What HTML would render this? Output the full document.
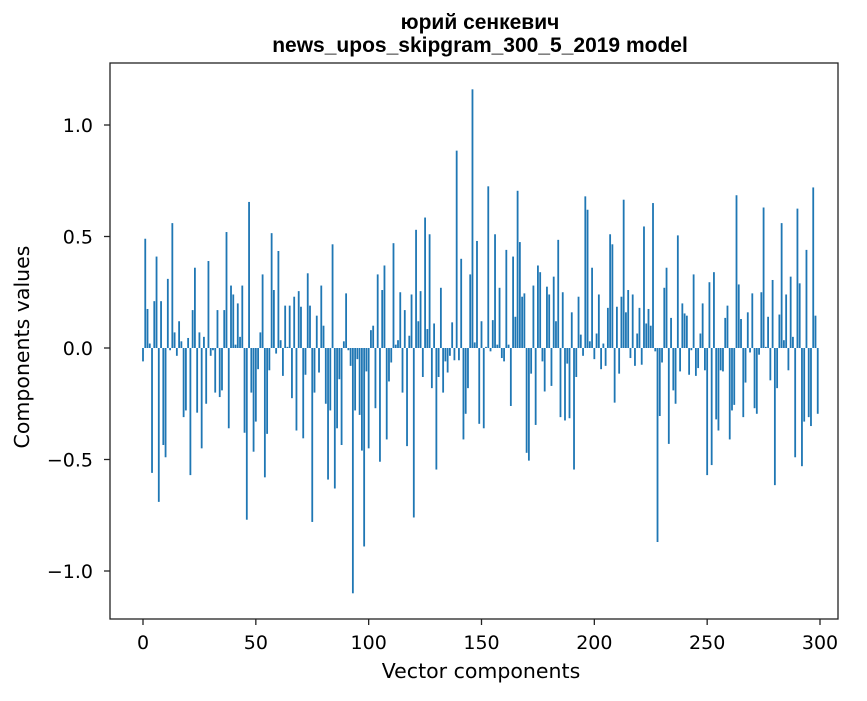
<!DOCTYPE html>
<html><head><meta charset="utf-8"><style>
body{margin:0;background:#fff;}
.dv{font-family:"DejaVu Sans","Liberation Sans",sans-serif;}
.lb{font-family:"Liberation Sans","DejaVu Sans",sans-serif;}
</style></head><body>
<svg id="chart" width="867" height="696" xmlns="http://www.w3.org/2000/svg">
<rect width="867" height="696" fill="#fff"/>
<text class="lb" x="480" y="29" text-anchor="middle" font-size="21" font-weight="bold">юрий сенкевич</text>
<text class="lb" x="480" y="52" text-anchor="middle" font-size="21" font-weight="bold">news_upos_skipgram_300_5_2019 model</text>
<g id="bars"></g>
<g id="axes"></g>
<rect x="110" y="63" width="728" height="556" fill="none" stroke="#222" stroke-width="1.3"/>
<text class="dv" x="481" y="678" text-anchor="middle" font-size="20.5">Vector components</text>
<text class="dv" transform="translate(29,347) rotate(-90)" text-anchor="middle" font-size="20.5">Components values</text>
</svg>
<script>
const values = [
-0.06,0.49,0.175,0.02,-0.56,0.21,0.41,-0.69,0.21,-0.435,
-0.49,0.31,-0.01,0.56,0.07,-0.035,0.12,0.03,-0.31,-0.28,
0.045,-0.57,0.17,0.36,-0.29,0.07,-0.45,0.05,-0.25,0.39,
-0.035,-0.01,-0.2,0.17,-0.22,-0.19,0.17,0.52,-0.36,0.28,
0.24,0.015,0.2,0.05,0.28,-0.38,-0.77,0.655,-0.2,-0.465,
-0.33,-0.095,0.07,0.33,-0.58,-0.385,-0.1,0.515,0.26,-0.025,
0.435,0.035,-0.125,0.19,0.005,0.19,-0.225,0.23,-0.37,0.255,
0.185,-0.405,-0.12,0.335,0.19,-0.78,-0.2,0.145,-0.11,0.28,
0.1,-0.25,-0.59,-0.28,0.465,-0.63,-0.36,-0.14,-0.435,0.03,
0.245,-0.01,-0.08,-1.1,-0.28,-0.05,-0.3,-0.46,-0.89,-0.105,
-0.45,0.08,0.1,-0.27,0.33,-0.51,0.26,0.37,-0.41,-0.15,
-0.065,0.47,0.015,0.035,0.25,-0.2,0.17,-0.44,0.055,0.24,
-0.76,0.53,0.12,0.255,-0.13,0.585,0.085,0.51,-0.18,0.11,
-0.545,-0.13,0.27,-0.2,-0.06,-0.11,-0.035,0.115,-0.055,0.885,
-0.055,0.4,-0.41,-0.295,-0.18,0.33,1.16,0.025,0.48,-0.34,
0.12,-0.36,0.005,0.725,-0.015,0.125,0.51,0.015,0.27,-0.045,
-0.06,0.44,0.015,-0.26,0.41,0.14,0.705,0.475,0.23,0.245,
-0.47,-0.505,-0.115,0.28,-0.345,0.37,0.34,-0.06,-0.195,0.275,
0.24,-0.17,0.32,0.12,0.485,-0.31,0.25,-0.325,-0.07,-0.315,
0.16,-0.545,-0.13,0.23,0.06,-0.035,0.68,0.62,0.03,0.36,
-0.05,0.065,0.24,-0.095,0.02,-0.08,0.18,0.51,0.465,-0.245,
0.185,-0.115,0.23,0.665,0.16,0.26,-0.045,0.24,-0.08,0.065,
0.18,-0.075,0.545,0.11,0.175,0.1,0.65,-0.015,-0.87,-0.305,
-0.065,0.27,0.36,-0.43,0.135,-0.19,-0.25,0.505,-0.105,0.2,
0.155,0.145,-0.12,-0.01,0.33,-0.125,-0.09,0.065,0.2,-0.1,
-0.57,0.295,-0.525,0.34,-0.32,-0.37,-0.1,-0.105,0.135,0.19,
-0.41,-0.28,-0.255,0.685,0.285,0.13,-0.31,-0.155,0.16,-0.02,
0.245,-0.27,-0.295,-0.03,0.25,0.63,0.005,0.14,-0.145,0.305,
-0.615,-0.18,0.15,0.56,0.035,0.24,-0.1,0.32,0.05,-0.49,
0.625,0.29,-0.53,-0.33,0.44,-0.31,-0.35,0.72,0.145,-0.295
];
const xTicks = [0,50,100,150,200,250,300];
const yTicks = [-1.0,-0.5,0.0,0.5,1.0];
const yTickLabels = ["\u22121.0","\u22120.5","0.0","0.5","1.0"];

const NS="http://www.w3.org/2000/svg";
function xs(v){return 143 + v*(677/300);}
function ys(v){return 348 - v*223;}
const bars=document.getElementById('bars');
values.forEach((v,i)=>{
  const r=document.createElementNS(NS,'rect');
  const w=0.8*(677/300);
  const y0=ys(0), y1=ys(v);
  r.setAttribute('x',xs(i)-w/2);
  r.setAttribute('width',w);
  r.setAttribute('y',Math.min(y0,y1));
  r.setAttribute('height',Math.abs(y1-y0));
  r.setAttribute('fill','#1f77b4');
  
  
  bars.appendChild(r);
});
const axes=document.getElementById('axes');
xTicks.forEach(t=>{
  const l=document.createElementNS(NS,'line');
  l.setAttribute('x1',xs(t));l.setAttribute('x2',xs(t));
  l.setAttribute('y1',619);l.setAttribute('y2',625);
  l.setAttribute('stroke','#222');
  l.setAttribute('stroke-width','1.3');
  
  
  axes.appendChild(l);
  const tx=document.createElementNS(NS,'text');
  tx.setAttribute('class','dv');
  tx.setAttribute('x',xs(t));tx.setAttribute('y',649);
  tx.setAttribute('text-anchor','middle');tx.setAttribute('font-size','19');
  tx.textContent=String(t);
  
  
  axes.appendChild(tx);
});
yTicks.forEach((t,k)=>{
  const l=document.createElementNS(NS,'line');
  l.setAttribute('x1',104);l.setAttribute('x2',110);
  l.setAttribute('y1',ys(t));l.setAttribute('y2',ys(t));
  l.setAttribute('stroke','#222');
  l.setAttribute('stroke-width','1.3');
  
  
  axes.appendChild(l);
  const tx=document.createElementNS(NS,'text');
  tx.setAttribute('class','dv');
  tx.setAttribute('x',93);tx.setAttribute('y',ys(t)+7);
  tx.setAttribute('text-anchor','end');tx.setAttribute('font-size','19');
  tx.textContent=yTickLabels[k];
  
  
  axes.appendChild(tx);
});
</script>
</body></html>
